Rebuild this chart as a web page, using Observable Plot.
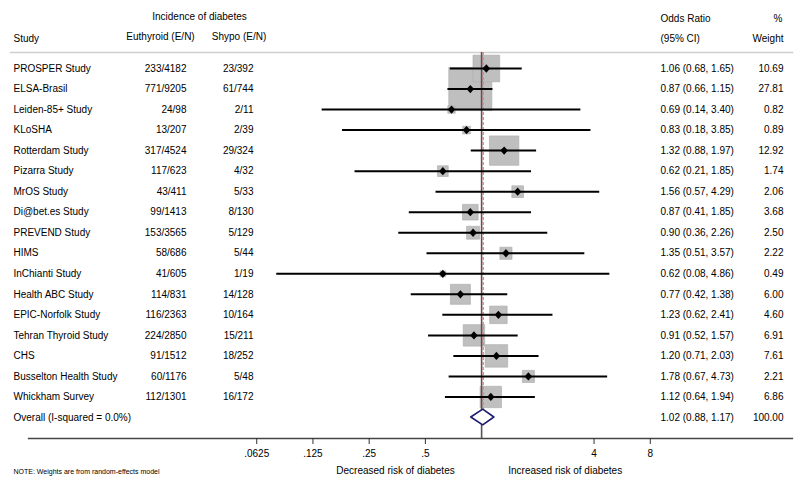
<!DOCTYPE html>
<html>
<head>
<meta charset="utf-8">
<script src="https://cdn.jsdelivr.net/npm/d3@7"></script>
<script src="https://cdn.jsdelivr.net/npm/@observablehq/plot@0.6"></script>
<style>
  html, body { margin: 0; padding: 0; background: #fff; }
  #chart svg { display: block; }
</style>
</head>
<body>
<div id="chart"></div>
<script>
const studies = ["PROSPER Study","ELSA-Brasil","Leiden-85+ Study","KLoSHA","Rotterdam Study","Pizarra Study","MrOS Study","Di@bet.es Study","PREVEND Study","HIMS","InChianti Study","Health ABC Study","EPIC-Norfolk Study","Tehran Thyroid Study","CHS","Busselton Health Study","Whickham Survey"];
const euthyroid = ["233/4182","771/9205","24/98","13/207","317/4524","117/623","43/411","99/1413","153/3565","58/686","41/605","114/831","116/2363","224/2850","91/1512","60/1176","112/1301"];
const shypo = ["23/392","61/744","2/11","2/39","29/324","4/32","5/33","8/130","5/129","5/44","1/19","14/128","10/164","15/211","18/252","5/48","16/172"];
const oddsRatio = [1.06,0.87,0.69,0.83,1.32,0.62,1.56,0.87,0.90,1.35,0.62,0.77,1.23,0.91,1.20,1.78,1.12];
const ciLow = [0.68,0.66,0.14,0.18,0.88,0.21,0.57,0.41,0.36,0.51,0.08,0.42,0.62,0.52,0.71,0.67,0.64];
const ciHigh = [1.65,1.15,3.40,3.85,1.97,1.85,4.29,1.85,2.26,3.57,4.86,1.38,2.41,1.57,2.03,4.73,1.94];
const weights = [10.69,27.81,0.82,0.89,12.92,1.74,2.06,3.68,2.50,2.22,0.49,6.00,4.60,6.91,7.61,2.21,6.86];
const overallLabel = "Overall (I-squared = 0.0%)";
const overallOR = 1.02, overallLow = 0.88, overallHigh = 1.17, overallWeight = 100.00;
const tickValues = [0.0625, 0.125, 0.25, 0.5, 4, 8];
const tickLabels = [".0625", ".125", ".25", ".5", "4", "8"];
const headers = {
  incidence: "Incidence of diabetes", study: "Study", eu: "Euthyroid (E/N)", sh: "Shypo (E/N)",
  or1: "Odds Ratio", or2: "(95% CI)", w1: "%", w2: "Weight"
};
const leftLabel = "Decreased risk of diabetes";
const rightLabel = "Increased risk of diabetes";
const note = "NOTE: Weights are from random-effects model";

const rows = studies.map((s, i) => ({
  row: i + 1, study: s, eu: euthyroid[i], sh: shypo[i],
  or: oddsRatio[i], lo: ciLow[i], hi: ciHigh[i], w: weights[i],
  ortext: `${oddsRatio[i].toFixed(2)} (${ciLow[i].toFixed(2)}, ${ciHigh[i].toFixed(2)})`,
  wtext: weights[i].toFixed(2)
}));
const overallRow = studies.length + 1;
const overall = [{
  row: overallRow, study: overallLabel, eu: "", sh: "",
  ortext: `${overallOR.toFixed(2)} (${overallLow.toFixed(2)}, ${overallHigh.toFixed(2)})`,
  wtext: overallWeight.toFixed(2)
}];
const allRows = rows.concat(overall);
const dh = 0.38;
const diamond = [
  {y: overallRow - dh, x1: overallOR, x2: overallOR},
  {y: overallRow, x1: overallLow, x2: overallHigh},
  {y: overallRow + dh, x1: overallOR, x2: overallOR}
];
const ticks = tickValues.map((v, i) => ({v, label: tickLabels[i]}));

const markerSym = {draw(ctx, size) {
  const r = Math.sqrt(size) * 0.62625;
  ctx.moveTo(0, -r * 1.1); ctx.lineTo(r, 0); ctx.lineTo(0, r * 1.1); ctx.lineTo(-r, 0); ctx.closePath();
}};

const font = "'Liberation Sans', Arial, Helvetica, sans-serif";
const T = {fontSize: 10, fill: "#000"};

const chart = Plot.plot({
  width: 800, height: 486,
  marginTop: 52, marginBottom: 48, marginLeft: 10, marginRight: 8,
  style: {fontFamily: font, fontSize: "10px", background: "#fff", color: "#000"},
  x: {type: "log", domain: [1/32, 16], range: [200, 706]},
  y: {domain: [1, overallRow], range: [68, 417], axis: null},
  r: {type: "sqrt", domain: [0, 100], range: [0, 46.1]},
  marks: [
    Plot.frame({anchor: "top", stroke: "#cfcfcf", strokeWidth: 1.6}),
    Plot.frame({anchor: "bottom", stroke: "#444", strokeWidth: 1.3, insetLeft: 18}),
    Plot.dot(rows, {x: "or", y: "row", r: "w", symbol: "square", fill: "#bfbfbf", stroke: "#a9a9a9", strokeWidth: 0.6}),
    Plot.ruleX([1], {stroke: "#555", strokeWidth: 1.6}),
    Plot.ruleX([overallOR], {stroke: "#ee8080", strokeWidth: 1.4, strokeDasharray: "3,2", insetBottom: 11}),
    Plot.ruleY(rows, {y: "row", x1: "lo", x2: "hi", stroke: "#000", strokeWidth: 2}),
    Plot.dot(rows, {x: "or", y: "row", r: 3.4, symbol: markerSym, fill: "#000", stroke: "none"}),
    Plot.areaX(diamond, {y: "y", x1: "x1", x2: "x2", fill: "#fff", stroke: "#1c1c6e", strokeWidth: 1.6}),
    Plot.axisX({ticks: tickValues, tickFormat: () => "", tickSize: 6, stroke: "#333", label: null}),
    Plot.text(ticks, {x: "v", text: "label", frameAnchor: "bottom", dy: 18, textAnchor: "middle", ...T}),
    // table columns
    Plot.text(allRows, {y: "row", text: "study", frameAnchor: "left", dx: 3, textAnchor: "start", ...T}),
    Plot.text(allRows, {y: "row", text: "eu", frameAnchor: "left", dx: 176, textAnchor: "end", ...T}),
    Plot.text(allRows, {y: "row", text: "sh", frameAnchor: "left", dx: 243, textAnchor: "end", ...T}),
    Plot.text(allRows, {y: "row", text: "ortext", frameAnchor: "left", dx: 650, textAnchor: "start", ...T}),
    Plot.text(allRows, {y: "row", text: "wtext", frameAnchor: "left", dx: 773, textAnchor: "end", ...T}),
    // headers
    Plot.text([headers.incidence], {frameAnchor: "top-left", dx: 189, dy: -39.5, textAnchor: "middle", ...T}),
    Plot.text([headers.eu], {frameAnchor: "top-left", dx: 150, dy: -20, textAnchor: "middle", ...T}),
    Plot.text([headers.sh], {frameAnchor: "top-left", dx: 228.5, dy: -20, textAnchor: "middle", ...T}),
    Plot.text([headers.study], {frameAnchor: "top-left", dx: 3, dy: -18, textAnchor: "start", ...T}),
    Plot.text([headers.or1], {frameAnchor: "top-left", dx: 650, dy: -37.5, textAnchor: "start", ...T}),
    Plot.text([headers.or2], {frameAnchor: "top-left", dx: 650, dy: -18, textAnchor: "start", ...T}),
    Plot.text([headers.w1], {frameAnchor: "top-left", dx: 772, dy: -37.5, textAnchor: "end", ...T}),
    Plot.text([headers.w2], {frameAnchor: "top-left", dx: 773, dy: -18, textAnchor: "end", ...T}),
    // bottom labels
    Plot.text([leftLabel], {frameAnchor: "bottom", dx: -6, dy: 35, textAnchor: "middle", ...T}),
    Plot.text([rightLabel], {frameAnchor: "bottom", dx: 163.7, dy: 35, textAnchor: "middle", ...T}),
    Plot.text([note], {frameAnchor: "bottom-left", dx: 3, dy: 35, textAnchor: "start", fontSize: 7, fill: "#000"})
  ]
});
document.getElementById("chart").appendChild(chart);
</script>
</body>
</html>
